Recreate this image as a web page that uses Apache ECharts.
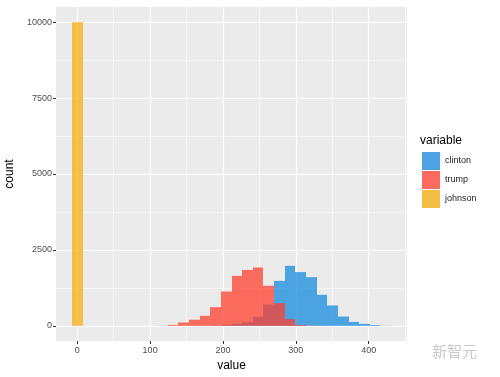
<!DOCTYPE html>
<html>
<head>
<meta charset="utf-8">
<script src="https://cdn.jsdelivr.net/npm/echarts@6/dist/echarts.min.js"></script>
<style>
  html, body { margin: 0; padding: 0; background: #fff; }
  #main { width: 500px; height: 377px; }
</style>
</head>
<body>
<div id="main"></div>
<script>
// histogram bins (width 14.6), centres of the bins that hold data
var binWidth = 14.6;
var binMids = [116.8, 131.4, 146.0, 160.6, 175.2, 189.8, 204.4, 219.0, 233.6, 248.2, 262.8,
               277.4, 292.0, 306.6, 321.2, 335.8, 350.4, 365.0, 379.6, 394.2, 408.8, 423.4];
var clinton = [0, 0, 0, 0, 0, 10, 30, 65, 120, 300, 700,
               1480, 1975, 1770, 1600, 1020, 670, 305, 130, 65, 25, 5];
var trump   = [5, 30, 110, 200, 330, 615, 1130, 1645, 1840, 1920, 1320,
               745, 220, 30, 5, 0, 0, 0, 0, 0, 0, 0];
var johnsonMids = [0];
var johnson = [10000];

// ticks
var xTicks = [0, 100, 200, 300, 400];
var xMinor = [50, 150, 250, 350, 450];
var yTicks = [0, 2500, 5000, 7500, 10000];
var yMinor = [1250, 3750, 6250, 8750];

var names = ['clinton', 'trump', 'johnson'];
var colors = ['#168BDF', '#FF3F2E', '#F7AE0D'];
var keyColors = ['#4BA3E3', '#FA6A5E', '#F4BD45'];

function pairs(mids, vals) {
  var out = [];
  for (var i = 0; i < mids.length; i++) {
    if (vals[i] > 0) out.push([mids[i], vals[i]]);
  }
  return out;
}

function renderBin(params, api) {
  var c = api.value(0), n = api.value(1);
  var p0 = api.coord([c - binWidth / 2, n]);
  var p1 = api.coord([c + binWidth / 2, 0]);
  var x0 = Math.round(p0[0]), x1 = Math.round(p1[0]);
  var style = api.style();
  style.stroke = null;
  style.lineWidth = 0;
  return {
    type: 'rect',
    shape: { x: x0, y: p0[1], width: x1 - x0, height: p1[1] - p0[1] },
    style: style
  };
}

function histSeries(i, data) {
  return {
    name: names[i],
    type: 'custom',
    xAxisIndex: 0,
    yAxisIndex: 0,
    renderItem: renderBin,
    itemStyle: { color: colors[i], opacity: 0.75 },
    encode: { x: 0, y: 1 },
    data: data,
    z: 2 + i
  };
}

var font = 'Liberation Sans, Arial, sans-serif';
var xMin = -29.2, xMax = 452.6;
var yMin = -500, yMax = 10500;
function plain(v) { return String(v); }

var chart = echarts.init(document.getElementById('main'));
chart.setOption({
  animation: false,
  textStyle: { fontFamily: font },
  title: {
    text: 'variable', left: 420, top: 135,
    textStyle: { fontSize: 12, fontWeight: 'normal', color: '#000', fontFamily: font },
    padding: 0
  },
  legend: {
    orient: 'vertical', left: 422, top: 152, padding: 0,
    itemWidth: 18, itemHeight: 18, itemGap: 1, icon: 'rect',
    selectedMode: false,
    textStyle: { fontSize: 9, color: '#1a1a1a', fontFamily: font },
    data: names.map(function (n, i) {
      return { name: n, itemStyle: { color: keyColors[i], opacity: 1 } };
    })
  },
  grid: {
    left: 56, right: 93, top: 7, bottom: 36,
    containLabel: false, outerBoundsMode: 'none',
    show: true, backgroundColor: '#EBEBEB', borderWidth: 0
  },
  xAxis: [{
    type: 'value', min: xMin, max: xMax,
    name: 'value', nameLocation: 'middle', nameGap: 18,
    nameTextStyle: { fontSize: 12, color: '#000', fontFamily: font },
    axisLine: { show: false, onZero: false },
    axisTick: { show: true, inside: false, length: 3, customValues: xTicks, lineStyle: { color: '#333' } },
    axisLabel: { customValues: xTicks, formatter: plain, fontSize: 9, color: '#4D4D4D', margin: 5 },
    splitLine: { show: true, lineStyle: { color: '#fff', width: 1.2 } }
  }, {
    type: 'value', min: xMin, max: xMax, position: 'bottom',
    axisLine: { show: false, onZero: false },
    axisTick: { show: false, customValues: xMinor },
    axisLabel: { show: false, customValues: xMinor },
    splitLine: { show: true, lineStyle: { color: 'rgba(255,255,255,0.55)', width: 1 } }
  }],
  yAxis: [{
    type: 'value', min: yMin, max: yMax,
    name: 'count', nameLocation: 'middle', nameGap: 32, nameRotate: 90,
    nameTextStyle: { fontSize: 12, color: '#000', fontFamily: font },
    axisLine: { show: false, onZero: false },
    axisTick: { show: true, inside: false, length: 3, customValues: yTicks, lineStyle: { color: '#333' } },
    axisLabel: { customValues: yTicks, formatter: plain, fontSize: 9, color: '#4D4D4D', margin: 4 },
    splitLine: { show: true, lineStyle: { color: '#fff', width: 1.2 } }
  }, {
    type: 'value', min: yMin, max: yMax, position: 'left',
    axisLine: { show: false, onZero: false },
    axisTick: { show: false, customValues: yMinor },
    axisLabel: { show: false, customValues: yMinor },
    splitLine: { show: true, lineStyle: { color: 'rgba(255,255,255,0.55)', width: 1 } }
  }],
  graphic: [{
    type: 'text', left: 432, top: 344,
    style: { text: '新智元', fontSize: 15, fill: '#c8c8c8', fontFamily: 'Noto Sans CJK SC' }
  }],
  series: [
    histSeries(0, pairs(binMids, clinton)),
    histSeries(1, pairs(binMids, trump)),
    histSeries(2, pairs(johnsonMids, johnson))
  ]
});
</script>
</body>
</html>
